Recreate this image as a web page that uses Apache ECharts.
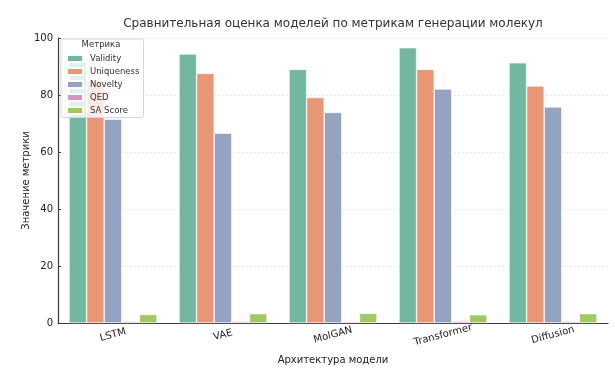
<!DOCTYPE html>
<html>
<head>
<meta charset="utf-8">
<script src="https://cdn.jsdelivr.net/npm/echarts@6/dist/echarts.min.js"></script>
<style>
  html, body { margin: 0; padding: 0; background: #fff; }
  #main { width: 615px; height: 375px; }
</style>
</head>
<body>
<div id="main"></div>
<script>
// данные
var models = ['LSTM', 'VAE', 'MolGAN', 'Transformer', 'Diffusion']
var metrics = ['Validity', 'Uniqueness', 'Novelty', 'QED', 'SA Score']
var validity = [91.7, 94.4, 89.0, 96.6, 91.3]
var uniqueness = [85.0, 87.6, 79.1, 89.0, 83.2]
var novelty = [71.5, 66.6, 73.9, 82.1, 75.8]
var qed = [0.55, 0.6, 0.5, 0.65, 0.6]
var saScore = [3.0, 3.3, 3.4, 2.9, 3.3]
var yTicks = [0, 20, 40, 60, 80, 100]

// Set2 с приглушённой насыщенностью
var colors = ['#72b7a1', '#e99675', '#95a3c3', '#db96c0', '#a2c864']
var values = [validity, uniqueness, novelty, qed, saScore]

var font = 'DejaVu Sans'
var Chart = echarts.init(document.getElementById('main'))

var series = metrics.map(function (name, i) {
  return {
    name: name,
    type: 'bar',
    data: values[i],
    barGap: '0%',
    barCategoryGap: '20%',
    itemStyle: {
      color: colors[i],
      borderColor: '#fff',
      borderWidth: 0.6
    }
  }
})

var options = {
  animation: false,
  textStyle: { fontFamily: font },
  title: [{
    text: 'Сравнительная оценка моделей по метрикам генерации молекул',
    left: 333,
    top: 18,
    padding: 0,
    textAlign: 'center',
    textStyle: { fontSize: 12, fontWeight: 'normal', color: '#333', fontFamily: font }
  }, {
    text: 'Метрика',
    left: 101,
    top: 40.5,
    padding: 0,
    textAlign: 'center',
    z: 10,
    textStyle: { fontSize: 8.5, fontWeight: 'normal', color: '#333', fontFamily: font }
  }],
  legend: {
    orient: 'vertical',
    left: 61,
    top: 39,
    padding: [14.5, 4, 2, 5],
    itemGap: 3,
    itemWidth: 16,
    itemHeight: 7,
    icon: 'rect',
    backgroundColor: 'rgba(255,255,255,0.8)',
    borderColor: '#d6d6d6',
    borderWidth: 1,
    borderRadius: 2,
    textStyle: { fontSize: 8.5, color: '#333', lineHeight: 10, fontFamily: font, padding: [0, 0, 0, 2] },
    data: metrics
  },
  grid: { left: 58, right: 7, top: 38, bottom: 52, containLabel: false },
  xAxis: {
    type: 'category',
    data: models,
    name: 'Архитектура модели',
    nameLocation: 'middle',
    nameGap: 32,
    nameMoveOverlap: false,
    nameTextStyle: { fontSize: 10, color: '#222' },
    axisLine: { lineStyle: { color: '#3a3a3a', width: 1.2 } },
    axisTick: { alignWithLabel: true, inside: true, length: 3, lineStyle: { color: '#3a3a3a' } },
    axisLabel: { rotate: 15, align: 'center', verticalAlign: 'middle', fontSize: 10, color: '#222', margin: 12 }
  },
  yAxis: {
    type: 'value',
    min: 0,
    max: 100,
    interval: 20,
    name: 'Значение метрики',
    nameLocation: 'middle',
    nameGap: 27,
    nameMoveOverlap: false,
    nameTextStyle: { fontSize: 10, color: '#222' },
    axisLine: { show: true, lineStyle: { color: '#3a3a3a', width: 1.2 } },
    axisTick: { show: true, inside: true, length: 3, lineStyle: { color: '#3a3a3a' } },
    axisLabel: {
      fontSize: 10, color: '#222', margin: 5,
      formatter: function (v) { return yTicks.indexOf(v) >= 0 ? String(v) : '' }
    },
    splitLine: { lineStyle: { color: '#e3e3e3', type: [2, 2], width: 0.8 } }
  },
  series: series
}

Chart.setOption(options)
</script>
</body>
</html>
